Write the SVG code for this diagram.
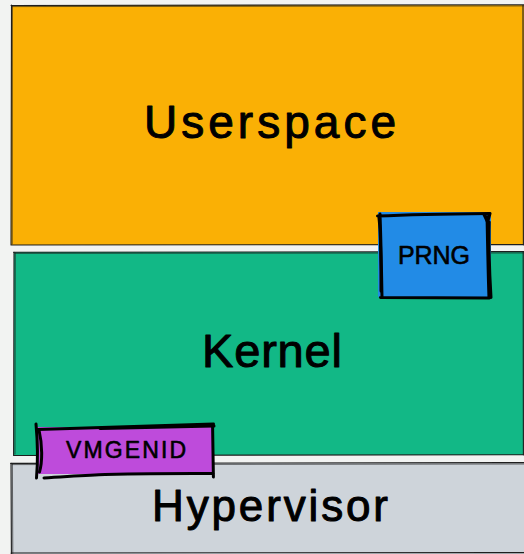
<svg xmlns="http://www.w3.org/2000/svg" width="524" height="554" viewBox="0 0 524 554">
  <style>
    .edge { fill: none; stroke: #1e1e1e; stroke-width: 1.1; stroke-linecap: round; stroke-linejoin: round; }
    .edge2 { fill: none; stroke: #1e1e1e; stroke-width: 0.8; stroke-linecap: round; opacity: 0.8; }
    .bold { fill: none; stroke: #000; stroke-width: 3; stroke-linecap: round; stroke-linejoin: round; }
    .label { font-family: "Liberation Sans", Arial, sans-serif; fill: #000; stroke: #000; stroke-width: 1; stroke-linejoin: round; text-anchor: start; }
    .small { stroke-width: 0.6; }
  </style>
  <rect width="524" height="554" fill="#f2f3f2"/>

  <!-- Userspace layer -->
  <g id="userspace">
    <rect x="11" y="5" width="513" height="240" fill="#fab005"/>
    <path class="edge" d="M11 5.5 L524 4.8 M11.5 5 L11 245 M11 245 L524 244.6 M523 5 L523.4 245"/>
    <path class="edge2" d="M12 6.6 L524 5.9 M12.4 6 L12.2 244"/>
    <text class="label" x="144" y="138" font-size="46" textLength="252" lengthAdjust="spacing">Userspace</text>
  </g>

  <!-- Kernel layer -->
  <g id="kernel">
    <rect x="14" y="252" width="510" height="203" fill="#12b886"/>
    <path class="edge" d="M13.5 252.3 L524 251.6 M14 252 L13.6 455.5 M13.6 455.5 L524 454.8 M523.2 252 L523.4 455"/>
    <path class="edge2" d="M15 253.4 L524 253 M15.3 253 L15 454"/>
    <text class="label" x="202" y="367" font-size="47" textLength="140" lengthAdjust="spacing">Kernel</text>
  </g>

  <!-- Hypervisor layer -->
  <g id="hypervisor">
    <rect x="11" y="463" width="513" height="91" fill="#ced4da"/>
    <path class="edge" d="M10.6 463.4 L524 462.6 M11 463 L11.4 554 M11 553 L524 552.6"/>
    <path class="edge2" d="M12 464.6 L524 464 M12.4 464 L12.8 554"/>
    <text class="label" x="152" y="521" font-size="44" textLength="236" lengthAdjust="spacing">Hypervisor</text>
  </g>

  <!-- PRNG box -->
  <g id="prng">
    <rect x="378" y="212" width="113" height="85" fill="#228be6"/>
    <path class="bold" d="M377.5 216 C410 214.5 450 213.8 489 213.4 M380 214 C381 240 381.5 270 382 297.5 M380.5 297.5 C415 297.8 452 298 489.5 298 M487 214 C487.5 240 488 270 489 298"/>
    <path class="bold" stroke-width="2" d="M484 214.5 L487.6 222 L490 213.5 M489.2 222 C488.6 245 489.6 275 491 297.5 M379 218 C380.4 230 381 265 381 291"/>
    <text class="label small" x="398" y="264" font-size="25" textLength="72" lengthAdjust="spacing">PRNG</text>
  </g>

  <!-- VMGENID device -->
  <g id="vmgenid">
    <rect x="37" y="427" width="176" height="47" fill="#be4bdb"/>
    <path class="bold" d="M38 429.5 C90 428 150 426.5 213.5 424 M36 424 C37.5 440 38 460 36.5 478 M44 478 C70 476.5 90 475 105 474.6 C140 473.8 180 473.4 213.5 473.6 M212.6 427 C213 445 213.2 462 213.4 477"/>
    <path class="bold" stroke-width="2" d="M39 430 C42.5 445 42.5 462 39.5 472 M100 428.4 C140 427.5 180 426.8 214 426"/>
    <text class="label small" x="66" y="458" font-size="23" textLength="120" lengthAdjust="spacing">VMGENID</text>
  </g>
</svg>
